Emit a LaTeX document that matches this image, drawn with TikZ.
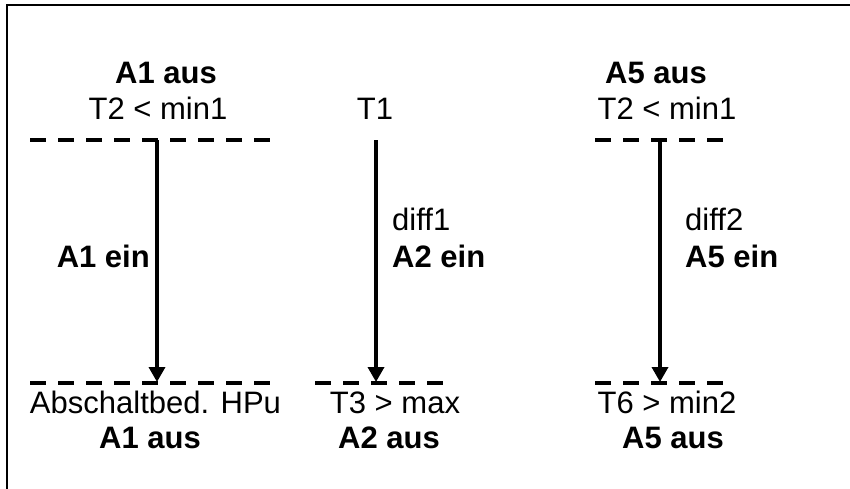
\documentclass[tikz,border=0pt]{standalone}
\usepackage{fontspec}
\setmainfont{Liberation Sans}
\usepackage{tikz}
\usetikzlibrary{arrows.meta}
\tikzset{>={Triangle[length=15pt,width=16pt]}}
\tikzset{
  txt/.style={inner sep=0pt,anchor=base,font=\fontsize{31}{36}\selectfont},
  btxt/.style={txt,font=\fontsize{31}{36}\selectfont\bfseries},
  limit/.style={line width=3.5pt,dash pattern=on 16pt off 12pt},
  flow/.style={->,line width=3.5pt}
}

\begin{document}
\begin{tikzpicture}[x=1pt,y=-1pt]
  \useasboundingbox (0,0) rectangle (850,488);
  \draw[line width=2pt] (7,500) -- (7,5) -- (860,5);

  % left column
  \node (a1off) at (166,83) [btxt] {A1 aus};
  \node (t2a) at (158,119.5) [txt] {T2 < min1};
  \coordinate (la) at (30,140);
  \coordinate (ra) at (270,140);
  \coordinate (lb) at (30,383);
  \coordinate (rb) at (270,383);
  \coordinate (s1) at (157,140);
  \coordinate (e1) at (157,382);
  \draw[limit] (la) -- (ra);
  \draw[limit] (lb) -- (rb);
  \draw[flow] (s1) -- (e1);
  \node (a1on) at (150,267) [btxt,anchor=base east] {A1 ein};
  \node (hpu) at (155.5,413) [txt] {Abschaltbed. HPu};
  \node (a1end) at (150,448) [btxt] {A1 aus};

  % middle column
  \node (t1) at (375,119.5) [txt] {T1};
  \coordinate (s2) at (376,140);
  \coordinate (e2) at (376,382);
  \coordinate (lc) at (315,383);
  \coordinate (rc) at (443,383);
  \draw[limit] (lc) -- (rc);
  \draw[flow] (s2) -- (e2);
  \node (d1) at (392,230) [txt,anchor=base west] {diff1};
  \node (a2on) at (392,267) [btxt,anchor=base west] {A2 ein};
  \node (t3) at (395,413) [txt] {T3 > max};
  \node (a2end) at (389,448) [btxt] {A2 aus};

  % right column
  \node (a5off) at (656,83) [btxt] {A5 aus};
  \node (t2b) at (667,119.5) [txt] {T2 < min1};
  \coordinate (ld) at (595,140);
  \coordinate (rd) at (723,140);
  \coordinate (le) at (595,383);
  \coordinate (re) at (723,383);
  \coordinate (s3) at (660,140);
  \coordinate (e3) at (660,382);
  \draw[limit] (ld) -- (rd);
  \draw[limit] (le) -- (re);
  \draw[flow] (s3) -- (e3);
  \node (d2) at (685,230) [txt,anchor=base west] {diff2};
  \node (a5on) at (685,267) [btxt,anchor=base west] {A5 ein};
  \node (t6) at (667,413) [txt] {T6 > min2};
  \node (a5end) at (673,448) [btxt] {A5 aus};
\end{tikzpicture}
\end{document}
